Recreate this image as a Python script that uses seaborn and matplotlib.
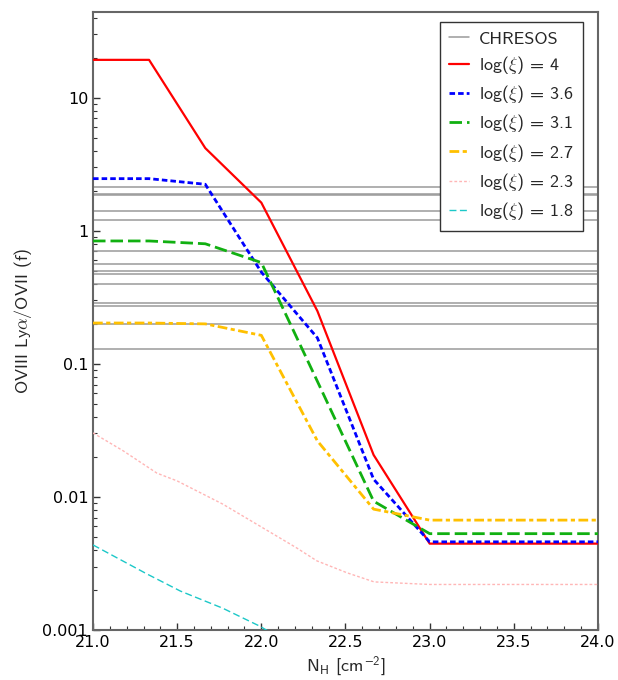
import numpy as np
import pandas as pd
import seaborn as sns
import matplotlib
matplotlib.use("Agg")
import matplotlib.pyplot as plt
from matplotlib.ticker import FuncFormatter, LogLocator, MultipleLocator, NullFormatter

# ---- data ----
NH = [21.0, 21.333, 21.667, 22.0, 22.333, 22.667, 23.0, 23.333, 23.667, 24.0]
ratio_4 = [19.3, 19.3, 4.19, 1.63, 0.25, 0.0207, 0.00446, 0.00446, 0.00446, 0.00446]
ratio_36 = [2.47, 2.47, 2.24, 0.49, 0.157, 0.0136, 0.0046, 0.0046, 0.0046, 0.0046]
ratio_31 = [0.84, 0.84, 0.80, 0.578, 0.074, 0.0093, 0.0053, 0.0053, 0.0053, 0.0053]
ratio_27 = [0.203, 0.203, 0.200, 0.164, 0.0264, 0.0081, 0.0067, 0.0067, 0.0067, 0.0067]
NH_23 = [21.0, 21.18, 21.38, 21.5, 21.77, 22.01, 22.21, 22.33, 22.51, 22.67, 23.0, 23.5, 24.0]
ratio_23 = [0.0303, 0.0222, 0.0151, 0.0132, 0.00885, 0.00585, 0.00414, 0.00331, 0.00269, 0.0023, 0.0022, 0.0022, 0.0022]
NH_18 = [21.0, 21.32, 21.52, 21.77, 21.99, 22.33]
ratio_18 = [0.00436, 0.00264, 0.00196, 0.00146, 0.00107, 0.0006]
chresos = [2.12, 1.91, 1.87, 1.40, 1.20, 0.708, 0.568, 0.500, 0.472, 0.397, 0.288, 0.274, 0.199, 0.130]
x_ticks = [21.0, 21.5, 22.0, 22.5, 23.0, 23.5, 24.0]

series = [
    ("log($\\xi$) = 4", NH, ratio_4, "red", 1.6, "-"),
    ("log($\\xi$) = 3.6", NH, ratio_36, "blue", 2.0, (0, (4, 2.2))),
    ("log($\\xi$) = 3.1", NH, ratio_31, "#11b011", 2.0, (0, (9, 3.6))),
    ("log($\\xi$) = 2.7", NH, ratio_27, "#ffc000", 2.0, (0, (7, 2.5, 3, 2.5))),
    ("log($\\xi$) = 2.3", NH_23, ratio_23, "#ffb6b6", 1.0, (0, (2, 1.5))),
    ("log($\\xi$) = 1.8", NH_18, ratio_18, "#1cc8c8", 1.0, (0, (5, 2.5))),
]

sns.set_style("white")
plt.rcParams["font.family"] = ["DejaVu Sans"]
plt.rcParams["mathtext.fontset"] = "cm"
plt.rcParams["lines.scale_dashes"] = False
CM = "cmss10"

fig = plt.figure(figsize=(6.18, 6.80), dpi=100)
ax = fig.add_axes([0.1505, 0.0735, 0.8171, 0.9085])

for i, v in enumerate(chresos):
    ax.axhline(v, color="#9a9a9a", lw=1.1, zorder=1,
               label="CHRESOS" if i == 0 else None)

for lab, xs, ys, col, lw, ls in series:
    df = pd.DataFrame({"NH": xs, "ratio": ys})
    sns.lineplot(data=df, x="NH", y="ratio", ax=ax, color=col, lw=lw,
                 linestyle=ls, label=lab, zorder=3)

ax.set_yscale("log")
ax.set_xlim(21.0, 24.0)
ax.set_ylim(0.001, 44)
ax.set_xticks(x_ticks)
ax.xaxis.set_major_formatter(FuncFormatter(lambda v, p: f"{v:.1f}"))
ax.xaxis.set_minor_locator(MultipleLocator(0.1))
ax.yaxis.set_major_locator(LogLocator(base=10, numticks=10))
ax.yaxis.set_minor_locator(LogLocator(base=10, subs=np.arange(2, 10), numticks=20))
ax.yaxis.set_major_formatter(FuncFormatter(lambda v, p: f"{v:g}"))
ax.yaxis.set_minor_formatter(NullFormatter())

ax.tick_params(axis="both", which="both", direction="in", left=True, bottom=True,
               right=False, top=False, colors="#333333", labelcolor="black")
ax.tick_params(axis="both", which="major", length=5, width=1, labelsize=11.5)
ax.tick_params(axis="both", which="minor", length=3, width=0.8)
for s in ax.spines.values():
    s.set_color("#666666")
    s.set_linewidth(1.5)

ax.set_xlabel("N$_\\mathregular{H}$ [cm$^{\\mathregular{-2}}$]", fontsize=13,
              labelpad=3, family=CM)
ax.set_ylabel("OVIII Ly$\\alpha$/OVII (f)", fontsize=13, labelpad=6, family=CM)

leg = ax.legend(loc="upper right", prop={"family": CM, "size": 13},
                frameon=True, fancybox=False,
                framealpha=1, edgecolor="#333333", handlelength=1.1,
                labelspacing=0.4, borderpad=0.5, handletextpad=0.55,
                borderaxespad=0, bbox_to_anchor=(0.970, 0.984))
leg.get_frame().set_linewidth(1.0)

fig.savefig("out.png", dpi=100)
